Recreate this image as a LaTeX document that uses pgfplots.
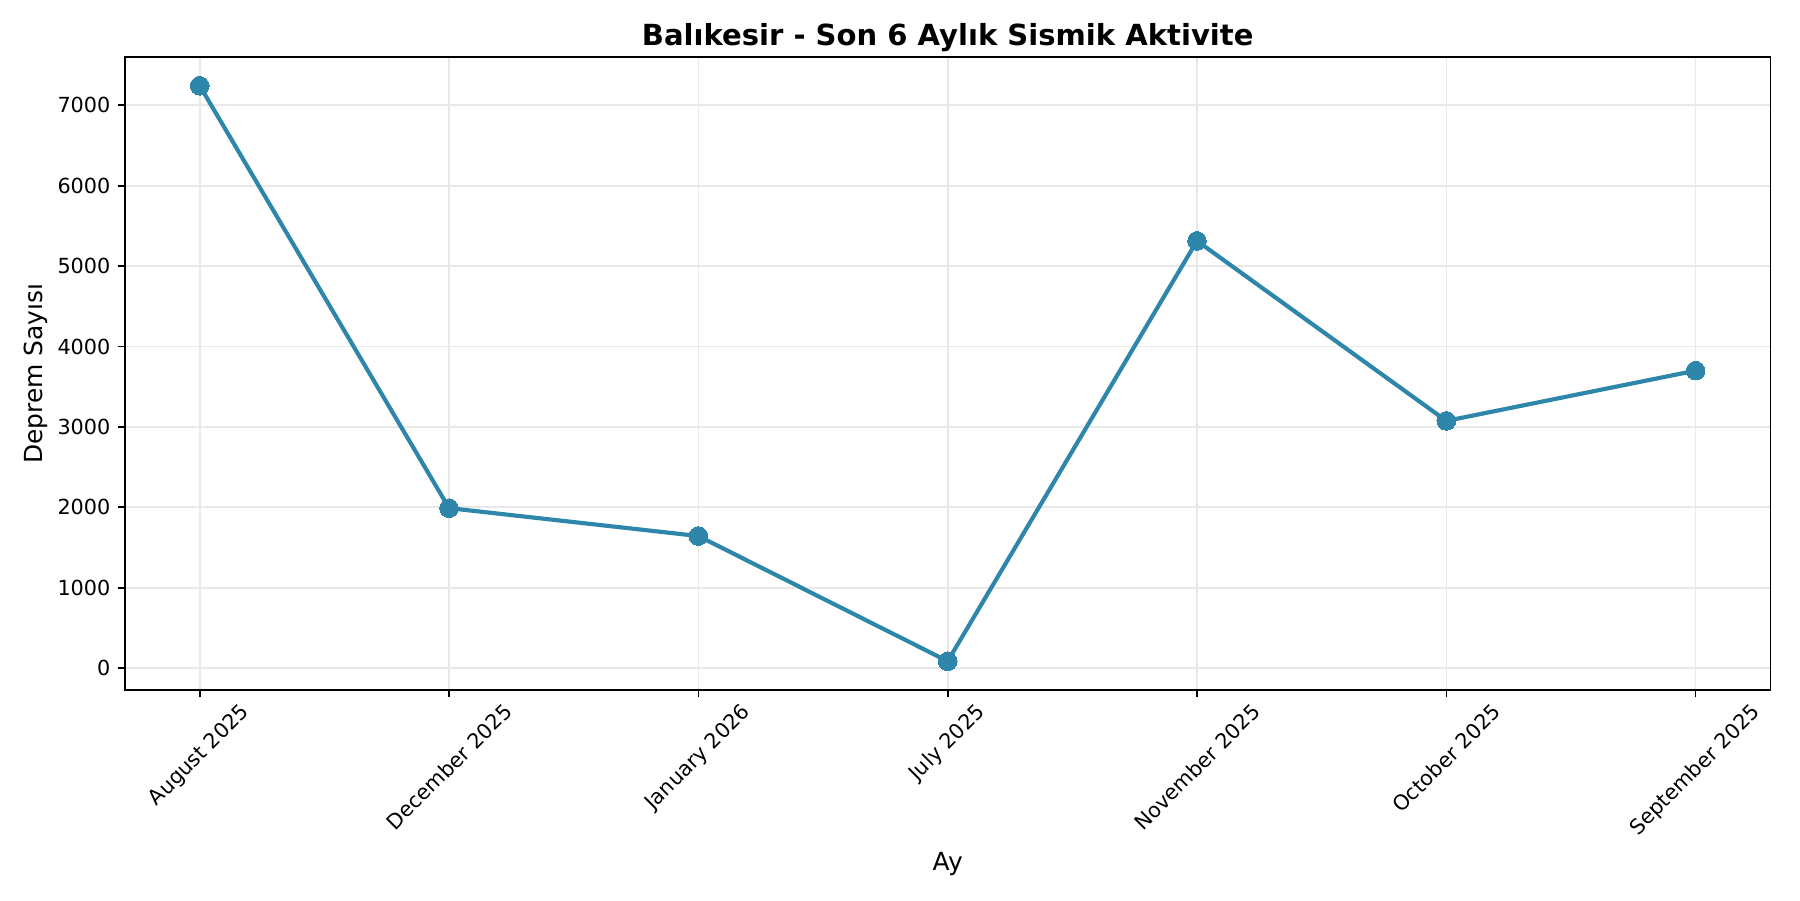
\documentclass[border=0pt]{standalone}
\usepackage{pgfplots}
\pgfplotsset{compat=1.18}
\usepackage{graphicx}
\usepackage{fontspec}
\setmainfont{DejaVu Sans}
\definecolor{lineblue}{HTML}{2E86AB}
\definecolor{gridgray}{HTML}{E8E8E8}
\newcommand{\rl}[1]{\rotatebox{45}{#1}}
\begin{document}
\begin{tikzpicture}
    \path[use as bounding box] (-0.833in,-1.4in) rectangle (11.167in,4.6in);
    \begin{axis}[
            at={(0,0)}, anchor=south west,
            scale only axis,
            width=10.97in,
            height=4.22in,
            xmin=-0.3, xmax=6.3,
            ymin=-272, ymax=7601,
            xtick={0,1,2,3,4,5,6},
            xticklabels={\rl{August 2025},\rl{December 2025},\rl{January 2026},\rl{July 2025},\rl{November 2025},\rl{October 2025},\rl{September 2025}},
            ytick={0,1000,2000,3000,4000,5000,6000,7000},
            /pgf/number format/assume math mode=true,
            /pgf/number format/1000 sep={},
            x tick label style={anchor=north, font=\fontsize{10}{12}\selectfont, inner sep=2pt},
            y tick label style={font=\fontsize{10}{12}\selectfont},
            tick align=outside,
            major tick length=3.5pt,
            tick style={black, line width=0.8pt},
            axis line style={black, line width=0.8pt},
            xtick pos=bottom, ytick pos=left,
            grid=major,
            major grid style={gridgray, line width=0.8pt},
            xlabel={Ay},
            ylabel={Deprem Sayısı},
            label style={font=\fontsize{12}{14}\selectfont},
            xlabel style={yshift=-1pt},
            ylabel style={yshift=-2pt},
            title={\textbf{Balıkesir - Son 6 Aylık Sismik Aktivite}},
            title style={font=\fontsize{14}{17}\selectfont, yshift=-7pt},
        ]
        \addplot[lineblue, line width=2pt, mark=*, mark size=4.5pt, mark options={fill=lineblue, draw=lineblue, line width=0pt}] coordinates {
                (0,7243) (1,1990) (2,1643) (3,86) (4,5314) (5,3075) (6,3700)
            };
    \end{axis}
\end{tikzpicture}
\end{document}
